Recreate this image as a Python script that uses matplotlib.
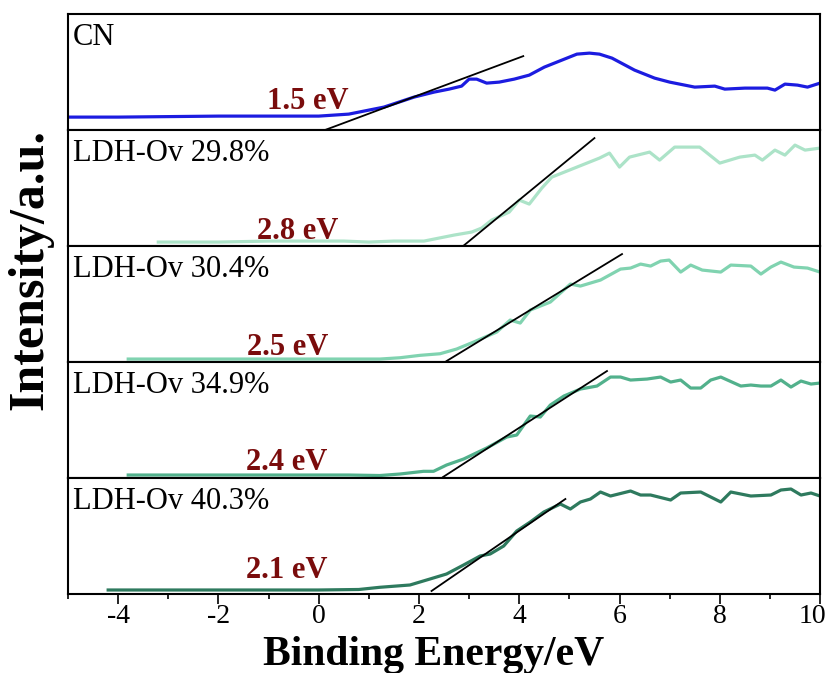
import matplotlib
matplotlib.use("Agg")
import matplotlib.pyplot as plt
import matplotlib.transforms as mtransforms
from matplotlib.ticker import MultipleLocator

plt.rcParams["font.family"] = ["Liberation Serif", "DejaVu Serif"]
plt.rcParams["axes.unicode_minus"] = False

# panel names, gap values and colours
names = ["CN", "LDH-Ov 29.8%", "LDH-Ov 30.4%", "LDH-Ov 34.9%", "LDH-Ov 40.3%"]
gaps = ["1.5 eV", "2.8 eV", "2.5 eV", "2.4 eV", "2.1 eV"]
colors = ["#1c1ce0", "#ace3c8", "#80d3b0", "#52b18c", "#2e7a5e"]

# spectra (binding energy in eV, intensity in a.u.)
cn_x = [-5, -4, -3, -2, -1, 0, 0.3, 0.6, 0.9, 1.3, 1.6, 1.9, 2.3, 2.6, 2.85, 3.0, 3.15, 3.35,
        3.6, 3.9, 4.2, 4.5, 4.9, 5.15, 5.4, 5.6, 5.85, 6.3, 6.7, 7.0, 7.5, 7.9, 8.1, 8.5,
        8.95, 9.1, 9.3, 9.55, 9.75, 10]
cn_y = [13, 13, 13.5, 14, 14, 14, 15, 16, 19, 23, 28, 33, 38, 41, 44, 51, 51, 47,
        48, 51, 55, 63, 71, 76, 77, 76, 72, 60, 52, 48, 43, 44, 41, 42,
        42, 40, 46, 45, 43, 47]

p298_x = [-3.2, -2.5, -2, -1, 0, 0.5, 1, 1.5, 2.1, 2.4, 2.7, 3.05, 3.25, 3.45, 3.8, 4.0, 4.2,
          4.45, 4.65, 5.15, 5.6, 5.8, 6.0, 6.2, 6.6, 6.8, 7.1, 7.6, 8.0, 8.4, 8.7, 8.85,
          9.1, 9.3, 9.5, 9.7, 10]
p298_y = [4, 4, 4, 5, 5, 5, 4, 5, 5, 8, 11, 14, 18, 26, 34, 46, 42,
          58, 69, 79, 88, 93, 79, 89, 94, 86, 99, 99, 83, 89, 91, 86,
          96, 91, 101, 96, 98]

p304_x = [-3.8, -3, -2, -1, 0, 0.6, 1.22, 1.62, 2.02, 2.42, 2.75, 3.09, 3.55, 3.82, 4.02,
          4.22, 4.62, 5.02, 5.22, 5.62, 6.02, 6.22, 6.42, 6.62, 6.82, 6.99, 7.22, 7.42,
          7.65, 8.02, 8.22, 8.62, 8.82, 9.02, 9.22, 9.48, 9.75, 10]
p304_y = [3, 3, 3, 3, 3, 3, 3, 4.3, 6.7, 8.3, 13, 20, 30, 42, 39,
          52, 60, 78, 76, 82, 93, 94, 98, 96, 101, 102, 90, 97,
          92, 90, 97, 96, 88, 95, 100, 95, 94, 90]

p349_x = [-3.8, -3, -2, -1, 0, 0.6, 1.22, 1.62, 2.09, 2.29, 2.55, 2.89, 3.35, 3.75, 3.95,
          4.22, 4.42, 4.62, 4.89, 5.22, 5.55, 5.82, 6.02, 6.22, 6.55, 6.82, 7.02, 7.22,
          7.42, 7.62, 7.82, 8.02, 8.42, 8.62, 8.82, 9.02, 9.22, 9.42, 9.62, 9.82, 10]
p349_y = [3, 3, 3, 3, 3, 3, 2.5, 4, 6.7, 6.7, 13, 19, 30, 41, 43,
          62, 61, 73, 82, 89, 92, 101, 101, 98, 99, 101, 96, 98,
          90, 90, 98, 101, 92, 93, 92, 92, 98, 91, 97, 94, 95]

p403_x = [-4.2, -3, -2, -1, 0, 0.8, 1.22, 1.82, 2.22, 2.55, 2.89, 3.22, 3.42, 3.69, 3.95,
          4.22, 4.49, 4.82, 5.02, 5.22, 5.42, 5.62, 5.82, 6.22, 6.42, 6.62, 7.02, 7.22,
          7.62, 8.02, 8.22, 8.62, 9.02, 9.22, 9.42, 9.62, 9.82, 10]
p403_y = [4, 4, 4, 4, 4, 4.5, 6.7, 9, 15, 20, 29, 38, 40, 48, 63,
          72, 82, 90, 85, 92, 95, 102, 98, 103, 99, 99, 94, 101,
          102, 92, 102, 98, 99, 104, 105, 99, 101, 98]

# tangent lines (start/end points) and gap label positions
tan_x = [[0.12, 4.08], [2.88, 5.5], [2.55, 6.05], [2.48, 5.75], [2.25, 4.92]]
tan_y = [[0, 74], [0, 108], [1, 108], [1, 107], [3, 95]]
gap_x = [-0.22, -0.42, -0.62, -0.64, -0.64]
gap_y = [29, 15, 15, 16, 23]

xs = [cn_x, p298_x, p304_x, p349_x, p403_x]
ys = [cn_y, p298_y, p304_y, p349_y, p403_y]

fig, axes = plt.subplots(5, 1, sharex=True, figsize=(8.3, 6.73), dpi=100)
fig.subplots_adjust(left=0.082, right=0.988, top=0.979, bottom=0.1174, hspace=0)

for i, ax in enumerate(axes):
    ax.plot(xs[i], ys[i], color=colors[i], lw=2.3, zorder=2)
    ax.plot(tan_x[i], tan_y[i], color="black", lw=1.3, zorder=3)
    ax.text(gap_x[i], gap_y[i], gaps[i], color="#7a0c0c", fontsize=22,
            fontweight="bold", ha="center", va="center")
    ax.text(0.006, 0.8, names[i], transform=ax.transAxes, fontsize=22,
            ha="left", va="center")
    ax.set_ylim(0, 116)
    ax.set_yticks([])
    for sp in ax.spines.values():
        sp.set_linewidth(1.5)
    ax.tick_params(axis="x", which="both", bottom=False, labelbottom=False)

ax = axes[-1]
ax.set_xlim(-5, 10)
ax.set_xticks([-4, -2, 0, 2, 4, 6, 8, 10])
ax.xaxis.set_minor_locator(MultipleLocator(1))
ax.tick_params(axis="x", which="both", bottom=True, labelbottom=True,
               direction="out", width=1.2, labelsize=20)
ax.tick_params(axis="x", which="major", length=7, pad=0)
ax.tick_params(axis="x", which="minor", length=3.5)

# keep the "10" label inside the figure, as in the original
lab10 = ax.xaxis.get_major_ticks()[-1].label1
lab10.set_transform(lab10.get_transform() +
                    mtransforms.ScaledTranslation(-8 / 100, 0, fig.dpi_scale_trans))

fig.text(0.523, 0.012, "Binding Energy/eV", fontsize=30, fontweight="bold",
         ha="center", va="baseline")
fig.text(0.036, 0.6, "Intensity/a.u.", fontsize=36, fontweight="bold",
         ha="center", va="center", rotation=90)

fig.savefig("out.png", dpi=100)
